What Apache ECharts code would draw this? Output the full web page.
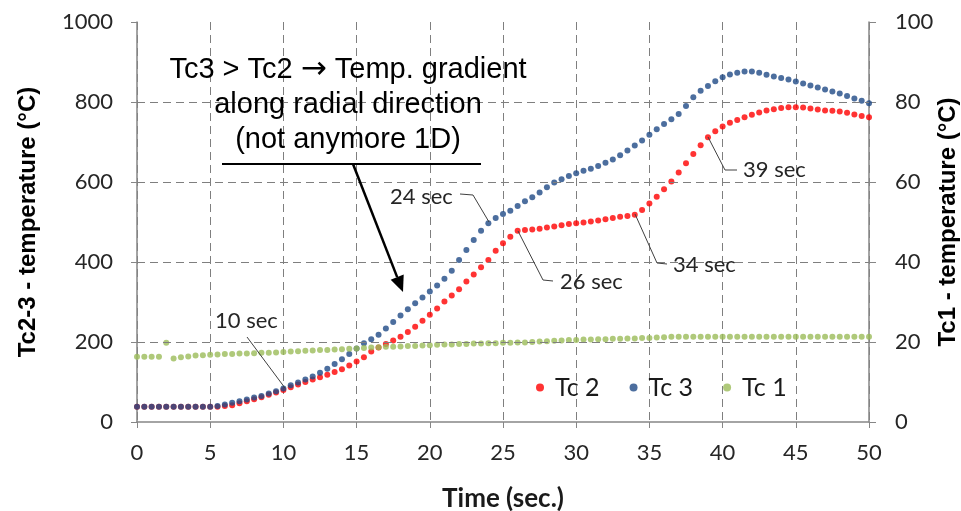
<!DOCTYPE html>
<html>
<head>
<meta charset="utf-8">
<title>Tc temperatures</title>
<script src="https://cdn.jsdelivr.net/npm/echarts@6.0.0/dist/echarts.min.js"></script>
<style>
  html, body { margin: 0; padding: 0; background: #fff; }
  #chart { width: 961px; height: 511px; }
</style>
</head>
<body>
<div id="chart"></div>
<script>
// sample times (s), one reading every 0.5 s
const times = [
  0, 0.5, 1, 1.5, 2, 2.5, 3, 3.5, 4, 4.5,
  5, 5.5, 6, 6.5, 7, 7.5, 8, 8.5, 9, 9.5,
  10, 10.5, 11, 11.5, 12, 12.5, 13, 13.5, 14, 14.5,
  15, 15.5, 16, 16.5, 17, 17.5, 18, 18.5, 19, 19.5,
  20, 20.5, 21, 21.5, 22, 22.5, 23, 23.5, 24, 24.5,
  25, 25.5, 26, 26.5, 27, 27.5, 28, 28.5, 29, 29.5,
  30, 30.5, 31, 31.5, 32, 32.5, 33, 33.5, 34, 34.5,
  35, 35.5, 36, 36.5, 37, 37.5, 38, 38.5, 39, 39.5,
  40, 40.5, 41, 41.5, 42, 42.5, 43, 43.5, 44, 44.5,
  45, 45.5, 46, 46.5, 47, 47.5, 48, 48.5, 49, 49.5,
  50
]

// Tc 2 (left axis, °C)
const tc2 = [
  38, 38, 38, 38, 38, 38, 38, 38, 38, 38,
  38, 38, 40, 42, 47, 52, 57, 62, 68, 74,
  80, 87, 94, 100, 106, 112, 118, 125, 132, 141,
  151, 162, 176, 186, 195, 204, 213, 225, 238, 253,
  268, 284, 301, 316, 332, 351, 369, 387, 405, 428,
  447, 463, 478, 480, 481, 483, 486, 489, 492, 495,
  497, 499, 501, 504, 507, 510, 513, 515, 518, 530,
  546, 563, 582, 601, 624, 647, 670, 692, 712, 727,
  739, 748, 755, 762, 768, 774, 779, 782, 785, 787,
  787, 786, 784, 781, 779, 778, 776, 773, 769, 765,
  762
]

// Tc 3 (left axis, °C)
const tc3 = [
  38, 38, 38, 38, 38, 38, 38, 38, 38, 38,
  38, 40, 44, 48, 52, 56, 61, 65, 71, 77,
  84, 92, 99, 106, 114, 123, 133, 145, 157, 170,
  184, 197, 207, 218, 234, 250, 266, 282, 297, 311,
  326, 341, 358, 378, 405, 430, 455, 478, 497, 510,
  520, 528, 540, 552, 562, 574, 587, 599, 607, 615,
  622, 628, 633, 640, 648, 656, 667, 679, 691, 704,
  718, 732, 745, 757, 770, 790, 812, 828, 840, 852,
  862, 869, 873, 876, 876, 873, 868, 864, 860, 856,
  851, 846, 841, 836, 831, 826, 821, 815, 809, 803,
  797
]

// Tc 1 (right axis, °C)
const tc1 = [
  16.3, 16.3, 16.3, 16.3, 19.8, 15.9, 16.2, 16.4, 16.6, 16.7,
  16.8, 16.9, 17.0, 17.0, 17.1, 17.1, 17.2, 17.3, 17.3, 17.4,
  17.5, 17.6, 17.7, 17.8, 17.9, 18.0, 18.0, 18.1, 18.2, 18.3,
  18.4, 18.5, 18.6, 18.7, 18.8, 18.8, 18.9, 19.0, 19.0, 19.1,
  19.2, 19.3, 19.4, 19.4, 19.5, 19.5, 19.6, 19.6, 19.7, 19.7,
  19.8, 19.8, 19.9, 19.9, 20.0, 20.1, 20.2, 20.3, 20.4, 20.5,
  20.5, 20.6, 20.6, 20.7, 20.7, 20.8, 20.8, 20.9, 20.9, 21.0,
  21.0, 21.1, 21.2, 21.3, 21.3, 21.3, 21.3, 21.3, 21.3, 21.3,
  21.3, 21.3, 21.3, 21.3, 21.3, 21.3, 21.3, 21.3, 21.3, 21.3,
  21.3, 21.3, 21.3, 21.3, 21.3, 21.3, 21.3, 21.3, 21.3, 21.3,
  21.3
]

const gridLevels = [200, 400, 600, 800]  // dashed horizontal lines (no line at 1000)

// callouts: label, label pos, polyline (pixels)
const callouts = [
  { text: '10 sec', x: 215, y: 321, pts: [[285, 388], [247, 337]] },
  { text: '24 sec', x: 390, y: 197, pts: [[489, 222], [473, 195], [460, 194]] },
  { text: '26 sec', x: 560, y: 282, pts: [[518, 231], [543, 280], [553, 281]] },
  { text: '34 sec', x: 673, y: 265, pts: [[635, 214], [657, 263], [667, 264]] },
  { text: '39 sec', x: 743, y: 170, pts: [[708, 137], [725, 170], [737, 170]] }
]

const axisColor = '#868686'
const gridColor = '#7f7f7f'
const tickFont = { fontFamily: 'Lato', fontSize: 22, color: '#262626' }

const chart = echarts.init(document.getElementById('chart'), null, { renderer: 'canvas' })

function pairs(ys) {
  return times.map((t, i) => [t, ys[i]])
}

// arrow from underline down to the curves
const tail = [353, 164]
const tip = [403, 292]
const dx = tip[0] - tail[0], dy = tip[1] - tail[1]
const len = Math.sqrt(dx * dx + dy * dy)
const ux = dx / len, uy = dy / len
const headL = 16, headW = 7
const base = [tip[0] - ux * headL, tip[1] - uy * headL]

const noteFont = '"Liberation Sans", Arial, sans-serif'
const graphics = [
  {
    type: 'text', z: 100,
    style: {
      text: '{t|Tc3 > Tc2 }{a|\u2192}{t| Temp. gradient}\n{t|along radial direction}\n{t|(not anymore 1D)}',
      x: 348, y: 52, align: 'center',
      rich: {
        t: { fontFamily: noteFont, fontSize: 29, lineHeight: 35, fill: '#000' },
        a: { fontFamily: 'DejaVu Sans', fontSize: 31, lineHeight: 35, fill: '#000' }
      }
    }
  },
  {
    type: 'line', z: 100,
    shape: { x1: 222, y1: 164, x2: 481, y2: 164 },
    style: { stroke: '#000', lineWidth: 2 }
  },
  {
    type: 'line', z: 100,
    shape: { x1: tail[0], y1: tail[1], x2: base[0], y2: base[1] },
    style: { stroke: '#000', lineWidth: 2.5 }
  },
  {
    type: 'polygon', z: 100,
    shape: {
      points: [
        tip,
        [base[0] - uy * headW, base[1] + ux * headW],
        [base[0] + uy * headW, base[1] - ux * headW]
      ]
    },
    style: { fill: '#000' }
  }
]

callouts.forEach(c => {
  graphics.push({
    type: 'polyline', z: 100,
    shape: { points: c.pts },
    style: { stroke: '#404040', lineWidth: 1, fill: null }
  })
  graphics.push({
    type: 'text', z: 100,
    style: {
      text: c.text, x: c.x, y: c.y, verticalAlign: 'middle',
      font: '22px Lato, sans-serif', fill: '#262626'
    }
  })
})

const option = {
  backgroundColor: '#fff',
  animation: false,
  grid: { left: 137, right: 92, top: 22, bottom: 89, outerBoundsMode: 'none', containLabel: false },
  legend: {
    left: 531, top: 370,
    itemWidth: 8, itemHeight: 8, itemGap: 30,
    icon: 'circle',
    textStyle: { fontFamily: 'Lato', fontSize: 25, color: '#1a1a1a', padding: [0, 0, 0, 6] },
    data: ['Tc 2', 'Tc 3', 'Tc 1']
  },
  xAxis: {
    type: 'value', min: 0, max: 50, interval: 5,
    name: 'Time (sec.)', nameLocation: 'middle', nameGap: 64, nameMoveOverlap: false,
    nameTextStyle: { fontFamily: 'Lato', fontWeight: 'bold', fontSize: 26, color: '#1a1a1a' },
    axisLine: { show: true, lineStyle: { color: axisColor, width: 1.5 } },
    axisTick: { show: true, length: 6, lineStyle: { color: axisColor } },
    axisLabel: Object.assign({ margin: 20 }, tickFont),
    splitLine: { show: true, lineStyle: { color: gridColor, type: [8, 5], width: 1 } }
  },
  yAxis: [
    {
      type: 'value', min: 0, max: 1000, interval: 200, position: 'left',
      name: 'Tc2-3 - temperature (°C)', nameLocation: 'middle', nameGap: 97, nameMoveOverlap: false,
      nameTextStyle: { fontFamily: 'Liberation Sans', fontWeight: 'bold', fontSize: 24, color: '#000' },
      axisLine: { show: true, lineStyle: { color: axisColor, width: 1.5 } },
      axisTick: { show: true, length: 6, lineStyle: { color: axisColor } },
      axisLabel: Object.assign({ margin: 24, formatter: v => String(v) }, tickFont),
      splitLine: { show: false }
    },
    {
      type: 'value', min: 0, max: 100, interval: 20, position: 'right',
      name: 'Tc1 - temperature (°C)', nameLocation: 'middle', nameGap: 67, nameMoveOverlap: false,
      nameTextStyle: { fontFamily: 'Liberation Sans', fontWeight: 'bold', fontSize: 24, color: '#000' },
      axisLine: { show: true, lineStyle: { color: axisColor, width: 1.5 } },
      axisTick: { show: true, length: 7, lineStyle: { color: axisColor } },
      axisLabel: Object.assign({ margin: 26, formatter: v => String(v) }, tickFont),
      splitLine: { show: false }
    }
  ],
  series: [
    {
      name: 'Tc 2', type: 'scatter', yAxisIndex: 0, symbolSize: 6,
      itemStyle: { color: '#ff0000' },
      data: pairs(tc2),
      markLine: {
        silent: true, symbol: 'none', animation: false,
        label: { show: false },
        lineStyle: { color: gridColor, type: [8, 5], width: 1 },
        data: gridLevels.map(v => ({ yAxis: v }))
      }
    },
    {
      name: 'Tc 3', type: 'scatter', yAxisIndex: 0, symbolSize: 6,
      itemStyle: { color: '#1f4a86' },
      data: pairs(tc3)
    },
    {
      name: 'Tc 1', type: 'scatter', yAxisIndex: 1, symbolSize: 6,
      itemStyle: { color: '#9bbb59' },
      data: pairs(tc1)
    }
  ],
  graphic: graphics
}

chart.setOption(option)
</script>
</body>
</html>
